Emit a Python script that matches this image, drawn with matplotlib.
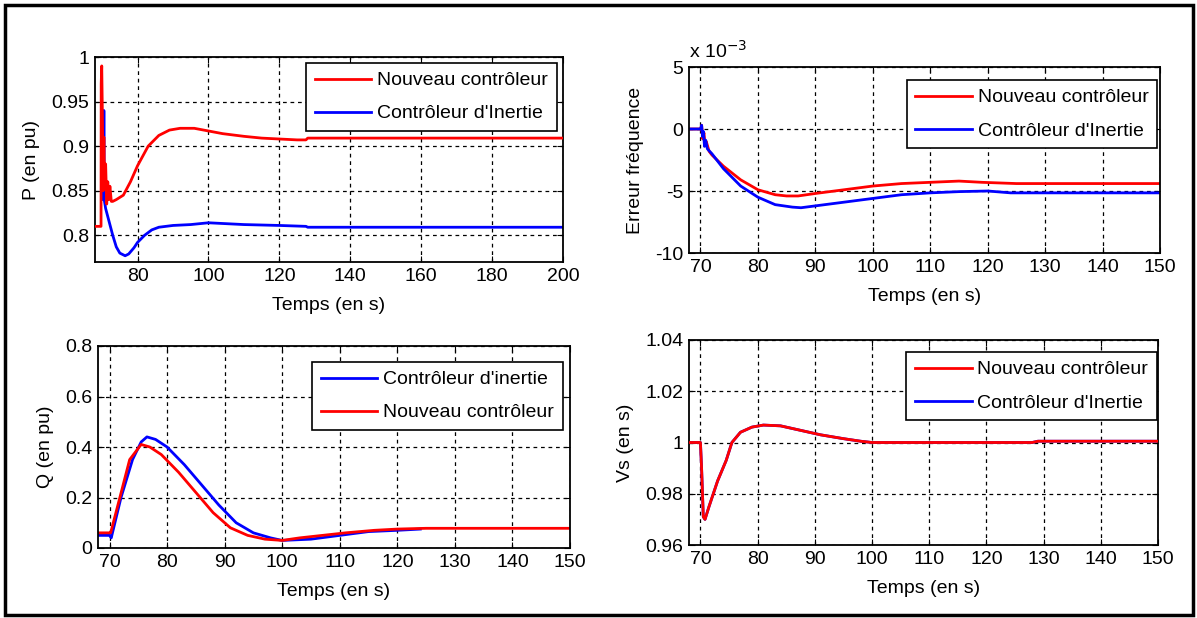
import numpy as np
import matplotlib.pyplot as plt
from matplotlib.patches import Rectangle

plt.rcParams['font.family'] = ['Liberation Sans', 'DejaVu Sans']
plt.rcParams['axes.unicode_minus'] = False

# --- P (en pu) ---
t_p_nouv = [68, 69.7, 69.75, 69.9, 70.1, 70.3, 70.5, 70.7, 71.0, 71.3, 71.6, 71.9, 72.2, 72.6, 73, 74, 76, 78, 80, 83, 86, 89, 92, 96, 100, 104, 110, 115, 120, 125, 127.5, 128, 200]
p_nouv = [0.81, 0.81, 0.97, 0.99, 0.93, 0.85, 0.91, 0.86, 0.88, 0.835, 0.86, 0.84, 0.855, 0.838, 0.838, 0.84, 0.845, 0.86, 0.878, 0.90, 0.912, 0.918, 0.92, 0.92, 0.917, 0.914, 0.911, 0.909, 0.908, 0.907, 0.907, 0.909, 0.909]
t_p_iner = [70.4, 70.5, 70.6, 71, 72, 73, 74, 75, 76.5, 77.5, 79, 80, 82, 84, 86, 90, 95, 100, 105, 110, 120, 127.5, 128, 200]
p_iner = [0.84, 0.94, 0.84, 0.83, 0.815, 0.80, 0.787, 0.78, 0.777, 0.779, 0.786, 0.792, 0.80, 0.806, 0.809, 0.811, 0.812, 0.814, 0.813, 0.812, 0.811, 0.810, 0.809, 0.809]

# --- Erreur fréquence (x 1e-3) ---
t_f_nouv = [68, 70, 70.2, 70.4, 70.6, 70.8, 71.0, 71.5, 72, 74, 77, 80, 83, 85, 87, 90, 95, 100, 105, 110, 115, 119, 125, 150]
f_nouv = [0, 0, 0.3, -0.8, -0.3, -1.3, -1.0, -1.8, -2.1, -3.0, -4.1, -4.9, -5.3, -5.4, -5.4, -5.2, -4.9, -4.6, -4.4, -4.3, -4.2, -4.3, -4.4, -4.4]
t_f_iner = [68, 70, 70.2, 70.35, 70.5, 70.7, 70.9, 71.2, 72, 74, 77, 80, 83, 86, 87.5, 90, 95, 100, 105, 110, 115, 120, 124, 150]
f_iner = [0, 0, 0.3, -0.6, -0.2, -1.4, -0.9, -1.6, -2.0, -3.2, -4.6, -5.5, -6.1, -6.3, -6.35, -6.2, -5.9, -5.6, -5.3, -5.15, -5.05, -5.0, -5.15, -5.15]

# --- Q (en pu) ---
t_q_iner = [68, 70, 70.3, 72, 74, 75.5, 76.5, 78, 80, 83, 86, 89, 92, 95, 98, 100, 105, 110, 115, 120, 124]
q_iner = [0.05, 0.05, 0.04, 0.2, 0.35, 0.42, 0.44, 0.43, 0.40, 0.33, 0.25, 0.17, 0.10, 0.06, 0.04, 0.03, 0.035, 0.05, 0.065, 0.07, 0.075]
t_q_nouv = [68, 70, 70.2, 71.8, 73.5, 75.5, 77, 79, 82, 85, 88, 91, 94, 97, 100, 103, 107, 111, 116, 120, 125, 150]
q_nouv = [0.06, 0.06, 0.06, 0.2, 0.35, 0.41, 0.40, 0.37, 0.30, 0.22, 0.14, 0.08, 0.05, 0.035, 0.03, 0.04, 0.05, 0.06, 0.07, 0.075, 0.078, 0.078]

# --- Vs (en s) ---
t_v = [68, 70, 70.2, 70.5, 70.8, 71.5, 73, 74.5, 75.5, 77, 79, 81, 84, 88, 91, 95, 98, 100, 128, 129, 150]
v_nouv = [1.0, 1.0, 0.99, 0.971, 0.970, 0.975, 0.985, 0.993, 1.0, 1.004, 1.006, 1.0068, 1.0065, 1.0045, 1.003, 1.0015, 1.0005, 1.0, 1.0, 1.0005, 1.0005]
v_iner = v_nouv

FS = 14
W, H = 1197, 618
fig = plt.figure(figsize=(W / 100, H / 100), dpi=100)
fig.patches.append(Rectangle((5 / W, 3 / H), 1188 / W, 610 / H, transform=fig.transFigure,
                             fill=False, edgecolor='black', linewidth=2.5))


def make_ax(l, r, t, b):
    return fig.add_axes([l / W, 1 - b / H, (r - l) / W, (b - t) / H])


def add_legend(ax, anchor, handles=None, labels=None):
    if handles is None:
        handles, labels = ax.get_legend_handles_labels()
    leg = ax.legend(handles, labels, loc='upper right', bbox_to_anchor=anchor, fontsize=FS,
                    fancybox=False, framealpha=1, edgecolor='black', handlelength=2.9,
                    handletextpad=0.3, labelspacing=0.8, borderpad=0.45, borderaxespad=0)
    leg.get_frame().set_linewidth(1.2)


def style(ax, xlim, ylim, xticks, yticks, yticklabels, ylabel):
    ax.set_xlim(*xlim)
    ax.set_ylim(*ylim)
    ax.set_xticks(xticks)
    ax.set_yticks(yticks)
    ax.set_yticklabels(yticklabels)
    ax.grid(True, color='black', linestyle=(0, (3, 3)), linewidth=0.9)
    ax.tick_params(direction='in', top=True, right=True, length=4, labelsize=FS, colors='black',
                   pad=4)
    for s in ax.spines.values():
        s.set_linewidth(1.3)
    ax.set_xlabel('Temps (en s)', fontsize=FS, labelpad=9)
    ax.set_ylabel(ylabel, fontsize=FS, labelpad=8)


ax1 = make_ax(95, 563, 57, 262)
ax1.plot(t_p_iner, p_iner, color='#0000ff', lw=2, label="Contrôleur d'Inertie", zorder=2)
ax1.plot(t_p_nouv, p_nouv, color='#ff0000', lw=2, label='Nouveau contrôleur', zorder=3)
style(ax1, (68, 200), (0.77, 1.0), np.arange(80, 201, 20), [0.8, 0.85, 0.9, 0.95, 1],
      ['0.8', '0.85', '0.9', '0.95', '1'], 'P (en pu)')
h, l = ax1.get_legend_handles_labels()
add_legend(ax1, (0.987, 0.971), h[::-1], l[::-1])

ax2 = make_ax(689, 1160, 67, 253)
ax2.plot(t_f_nouv, f_nouv, color='#ff0000', lw=2, label='Nouveau contrôleur')
ax2.plot(t_f_iner, f_iner, color='#0000ff', lw=2, label="Contrôleur d'Inertie")
style(ax2, (68, 150), (-10, 5), np.arange(70, 151, 10), [-10, -5, 0, 5],
      ['-10', '-5', '0', '5'], 'Erreur fréquence')
add_legend(ax2, (0.994, 0.930))
ax2.text(0.0, 1.03, 'x 10$^{-3}$', transform=ax2.transAxes, fontsize=FS, va='bottom', ha='left')

ax3 = make_ax(98, 570, 346, 548)
ax3.plot(t_q_iner, q_iner, color='#0000ff', lw=2, label="Contrôleur d'inertie")
ax3.plot(t_q_nouv, q_nouv, color='#ff0000', lw=2, label='Nouveau contrôleur')
style(ax3, (68, 150), (0, 0.8), np.arange(70, 151, 10), [0, 0.2, 0.4, 0.6, 0.8],
      ['0', '0.2', '0.4', '0.6', '0.8'], 'Q (en pu)')
add_legend(ax3, (0.985, 0.921))

ax4 = make_ax(689, 1158, 340, 545)
ax4.plot(t_v, v_iner, color='#0000ff', lw=2, zorder=2)
ax4.plot(t_v, v_nouv, color='#ff0000', lw=2, label='Nouveau contrôleur', zorder=3)
ax4.plot([], [], color='#0000ff', lw=2, label="Contrôleur d'Inertie")
style(ax4, (68, 150), (0.96, 1.04), np.arange(70, 151, 10), [0.96, 0.98, 1.0, 1.02, 1.04],
      ['0.96', '0.98', '1', '1.02', '1.04'], 'Vs (en s)')
add_legend(ax4, (0.998, 0.941))

fig.savefig('out.png', dpi=100)
